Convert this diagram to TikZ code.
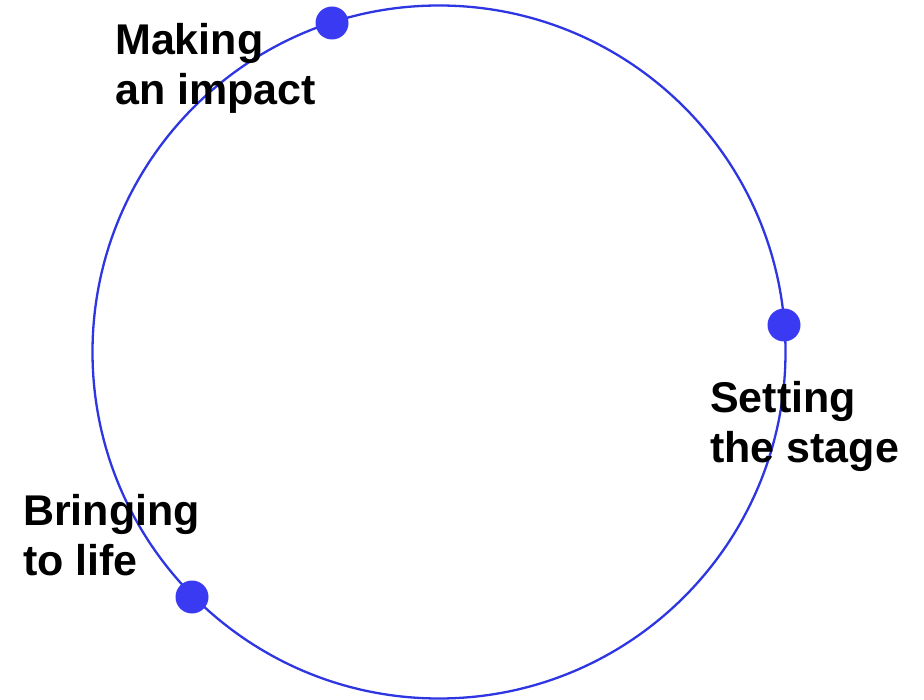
\documentclass[tikz,border=0pt]{standalone}
\usepackage{fontspec}
\setmainfont{Liberation Sans}
\begin{document}
\begin{tikzpicture}[x=1pt,y=-1pt,
  ring/.style={draw=ringblue,line width=2.3pt},
  marker/.style={circle,fill=dotblue,inner sep=0pt,minimum size=33pt},
  label/.style={anchor=base west,inner sep=0pt,align=left,
    font=\fontsize{43}{50}\selectfont\bfseries,text=black}]
  \definecolor{ringblue}{RGB}{46,54,226}
  \definecolor{dotblue}{RGB}{58,58,242}
  \useasboundingbox (0,0) rectangle (924,700);
  % the cycle
  \coordinate (c) at (439,352);
  \draw[ring] (c) circle[radius=346.5];
  % stage markers sitting on the ring
  \node[marker] (impact) at (332,23) {};
  \node[marker] (stage) at (784,325) {};
  \node[marker] (life) at (192,597) {};
  % stage names (anchored at the baseline of their last line)
  \node[label] (timpact) at (115,105) {Making\\an impact};
  \node[label] (tstage) at (710,462) {Setting\\the stage};
  \node[label] (tlife) at (23,575) {Bringing\\to life};
\end{tikzpicture}
\end{document}
